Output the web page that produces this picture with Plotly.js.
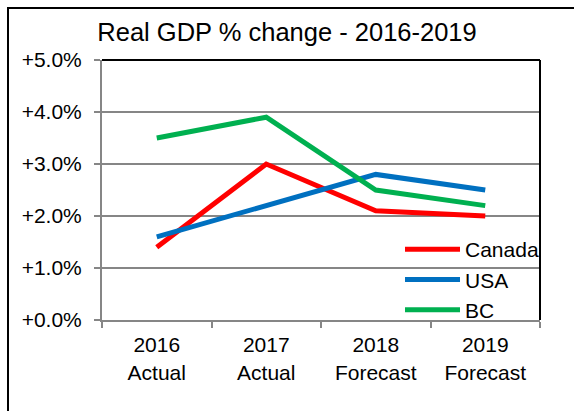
<!DOCTYPE html>
<html>
<head>
<meta charset="utf-8">
<script src="https://cdn.plot.ly/plotly-3.0.1.min.js"></script>
<style>html,body{margin:0;padding:0;background:#fff;}#chart{width:574px;height:411px;}</style>
</head>
<body>
<div id="chart"></div>
<script>
const categories = ["2016<br>Actual", "2017<br>Actual", "2018<br>Forecast", "2019<br>Forecast"];
const canada = [1.4, 3.0, 2.1, 2.0];
const usa = [1.6, 2.2, 2.8, 2.5];
const bc = [3.5, 3.9, 2.5, 2.2];
const yTicks = [0, 1, 2, 3, 4, 5];
const yTickLabels = ["+0.0%", "+1.0%", "+2.0%", "+3.0%", "+4.0%", "+5.0%"];

const FONT = "Arial, 'Liberation Sans', sans-serif";
const mk = (name, y, color) => ({
  type: "scatter", mode: "lines", name: name, x: categories, y: y,
  line: {color: color, width: 5}, hoverinfo: "skip"
});
const data = [
  mk("Canada", canada, "#FF0000"),
  mk("USA", usa, "#0070C0"),
  mk("BC", bc, "#00B050")
];

const L = 102, R = 540, T = 60, B = 320, W = 574, H = 411;
const pw = R - L, ph = B - T;
const px = v => (v - L) / pw;
const py = v => (B - v) / ph;

const layout = {
  width: W, height: H,
  margin: {l: L, r: W - R, t: T, b: H - B, pad: 0},
  paper_bgcolor: "#fff", plot_bgcolor: "#fff",
  font: {family: FONT, size: 21, color: "#000"},
  title: {text: "Real GDP % change - 2016-2019", font: {family: FONT, size: 25.5, color: "#000"},
          x: 287 / W, xanchor: "center", y: 1 - 32 / H, yanchor: "middle"},
  showlegend: true,
  legend: {x: px(400), y: py(229), xanchor: "left", yanchor: "top", bgcolor: "rgba(0,0,0,0)",
           font: {family: FONT, size: 21, color: "#000"}, itemwidth: 55, tracegroupgap: 0},
  xaxis: {type: "category", tickson: "boundaries", showgrid: false, ticks: "outside", ticklen: 6,
          tickcolor: "#868686", tickwidth: 2, showline: true, linecolor: "#868686", linewidth: 2,
          ticklabelstandoff: 5,
          tickfont: {family: FONT, size: 21, color: "#000"}, range: [-0.5, 3.5], fixedrange: true},
  yaxis: {range: [0, 5], tickmode: "array", tickvals: yTicks, ticktext: yTickLabels, showgrid: true,
          gridcolor: "#868686", gridwidth: 1.5, zeroline: false, ticks: "outside", ticklen: 6,
          tickcolor: "#868686", tickwidth: 2, showline: true, linecolor: "#868686", linewidth: 2,
          ticklabelstandoff: 8,
          tickfont: {family: FONT, size: 21, color: "#000"}, fixedrange: true},
  shapes: [
    {type: "line", xref: "paper", yref: "paper", x0: 0, x1: 1, y0: 1, y1: 1, line: {color: "#000", width: 2}},
    {type: "line", xref: "paper", yref: "paper", x0: 1, x1: 1, y0: 0, y1: 1, line: {color: "#000", width: 2}},
    {type: "line", xref: "paper", yref: "paper", x0: px(8), x1: px(8), y0: py(8), y1: py(420), line: {color: "#000", width: 2}},
    {type: "line", xref: "paper", yref: "paper", x0: px(7), x1: px(580), y0: py(8), y1: py(8), line: {color: "#000", width: 2}}
  ]
};
Plotly.newPlot("chart", data, layout, {displayModeBar: false, staticPlot: true});
</script>
</body>
</html>
